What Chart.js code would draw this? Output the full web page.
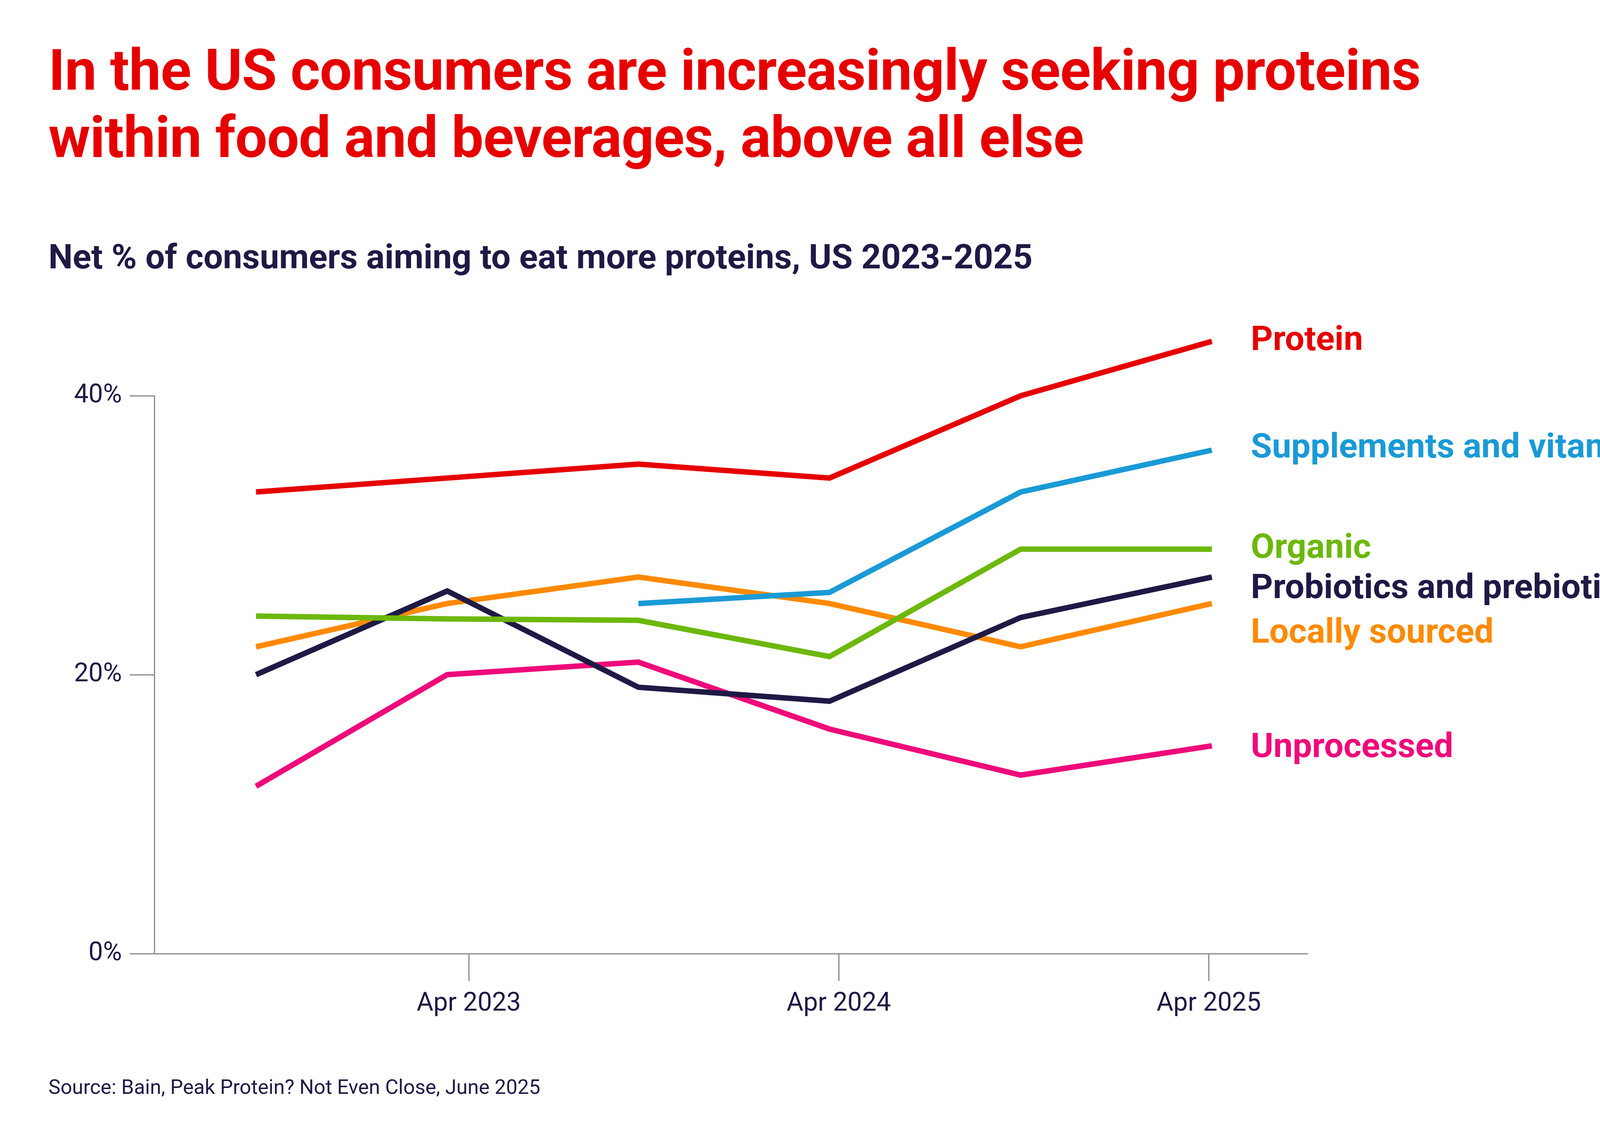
<!DOCTYPE html>
<html>
<head>
<meta charset="utf-8">
<script src="https://cdn.jsdelivr.net/npm/chart.js@4.4.1/dist/chart.umd.min.js"></script>
<style>
  html, body { margin: 0; padding: 0; background: #fff; }
  body { width: 4500px; height: 2913px; position: relative; overflow: hidden; font-family: Roboto, "Noto Sans", sans-serif; }
  #title { position: absolute; left: 124px; top: 95px; font-size: 146px; line-height: 172px; font-weight: 700; color: #e60000; letter-spacing: -1px; }
  #subtitle { position: absolute; left: 124px; top: 605px; font-size: 88px; font-weight: 700; color: #1e1a45; }
  #source { position: absolute; left: 124px; top: 2752px; font-size: 52px; color: #1e1a45; }
  #chart { position: absolute; left: 0; top: 0; width: 4500px; height: 2913px; }
</style>
</head>
<body>
<div id="title">In the US consumers are increasingly seeking proteins<br>within food and beverages, above all else</div>
<div id="subtitle">Net % of consumers aiming to eat more proteins, US 2023-2025</div>
<div id="source">Source: Bain, Peak Protein? Not Even Close, June 2025</div>
<canvas id="chart" width="4500" height="2913"></canvas>
<script>
// x positions in months since Jan 2022 (survey waves)
const waves = [8.1, 14.3, 20.5, 26.7, 32.9, 39.1];
const tickMonths = [15, 27, 39];
const tickLabels = ["Apr 2023", "Apr 2024", "Apr 2025"];

const seriesNames = ["Protein", "Supplements and vitamins", "Organic", "Probiotics and prebiotics", "Locally sourced", "Unprocessed"];
const seriesColors = ["#e60000", "#1a9ad6", "#6cb80b", "#1e1a45", "#ff8a00", "#ee0a7a"];
const protein     = [33.1, 34.1, 35.1, 34.1, 40.0, 43.9];
const supplements = [null, null, 25.1, 25.9, 33.1, 36.1];
const organic     = [24.2, 24.0, 23.9, 21.3, 29.0, 29.0];
const probiotics  = [20.0, 26.0, 19.1, 18.1, 24.1, 27.0];
const locally     = [22.0, 25.1, 27.0, 25.1, 22.0, 25.1];
const unprocessed = [12.0, 20.0, 20.9, 16.1, 12.8, 14.9];
const labelY      = [43.9, 36.2, 29.0, 26.1, 22.9, 14.7];

const allSeries = [protein, supplements, organic, probiotics, locally, unprocessed];
const ink = "#1e1a45";

const endLabels = {
  id: "endLabels",
  afterDatasetsDraw(chart) {
    const c = chart.ctx, ys = chart.scales.y;
    c.save();
    c.font = "700 88px Roboto";
    c.textBaseline = "middle";
    seriesNames.forEach((n, i) => {
      c.fillStyle = seriesColors[i];
      c.fillText(n, 3202, ys.getPixelForValue(labelY[i]));
    });
    c.restore();
  }
};

new Chart(document.getElementById("chart"), {
  type: "line",
  data: {
    datasets: allSeries.map((s, i) => ({
      label: seriesNames[i],
      data: s.map((v, j) => ({ x: waves[j], y: v })).filter(p => p.y !== null),
      borderColor: seriesColors[i],
      borderWidth: 14,
      pointRadius: 0,
      tension: 0,
      clip: false
    }))
  },
  options: {
    responsive: false,
    animation: false,
    devicePixelRatio: 1,
    layout: { padding: { left: 0, top: 1013, right: 1153, bottom: 172 } },
    plugins: { legend: { display: false }, tooltip: { enabled: false } },
    scales: {
      x: {
        type: "linear", min: 4.8, max: 42.2,
        afterBuildTicks: a => { a.ticks = tickMonths.map(v => ({ value: v })); },
        afterFit: a => { a.height = 300; },
        ticks: { callback: v => tickLabels[tickMonths.indexOf(v)], color: ink, font: { family: "Roboto", size: 66 }, padding: 20, maxRotation: 0 },
        grid: { drawOnChartArea: false, tickLength: 70, color: "#8a8a8a", lineWidth: 3 },
        border: { color: "#8a8a8a", width: 3 }
      },
      y: {
        min: 0, max: 40,
        afterBuildTicks: a => { a.ticks = [0, 20, 40].map(v => ({ value: v })); },
        afterFit: a => { a.width = 395; },
        ticks: { callback: v => v + "%", color: ink, font: { family: "Roboto", size: 66 }, padding: 20 },
        grid: { drawOnChartArea: false, tickLength: 63, color: "#8a8a8a", lineWidth: 3 },
        border: { color: "#8a8a8a", width: 3 }
      }
    }
  },
  plugins: [endLabels]
});
</script>
</body>
</html>
